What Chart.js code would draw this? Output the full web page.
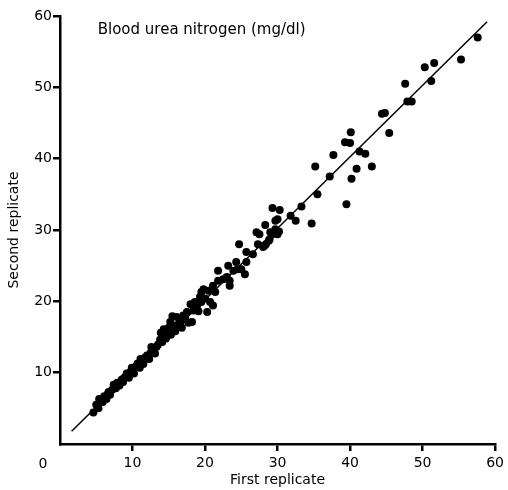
<!DOCTYPE html>
<html>
<head>
<meta charset="utf-8">
<script src="https://cdn.jsdelivr.net/npm/chart.js@4"></script>
<style>
  html, body { margin: 0; padding: 0; background: #fff; }
  #wrap { width: 508px; height: 490px; position: relative; }
</style>
</head>
<body>
<div id="wrap"><canvas id="bun"></canvas></div>
<script>
// values, mg/dl
const firstReplicate = [
  4.6, 5.0, 5.3, 5.6, 5.9, 6.1, 6.4, 6.7, 6.9, 7.2,
  7.4, 7.7, 7.9, 8.2, 8.5, 8.7, 9.0, 9.2, 9.5, 9.7,
  10.0, 10.2, 10.5, 10.7, 11.0, 11.2, 11.5, 11.7, 12.0, 12.3,
  12.5, 12.8, 13.1, 13.3, 5.4, 6.6, 7.5, 8.8, 9.9, 11.1,
  12.6,
  13.5, 13.8, 14.1, 14.4, 14.6, 14.3, 13.9, 14.8, 15.0, 15.2,
  15.5, 15.3, 15.7, 15.9, 16.1, 16.3, 16.6, 16.8, 17.0, 17.3,
  17.5, 17.7, 18.0, 18.2, 18.4, 18.6, 18.9, 19.1, 19.3, 19.5,
  19.5, 19.8, 20.0, 20.3, 20.5, 20.7, 21.1, 21.1, 21.4, 21.8,
  21.8, 22.5, 23.0, 23.4, 23.4, 23.9, 23.2, 24.3, 24.5, 25.0,
  25.5, 25.7, 24.7, 25.7, 26.6, 27.3, 28.2, 27.1, 27.5, 29.0,
  28.8, 28.3, 28.4, 28.0, 28.9, 29.7, 30.0, 29.7, 30.2, 29.3,
  30.0, 31.8, 32.5, 33.3, 29.3, 30.3, 34.7, 35.5,
  35.2, 37.2, 37.7, 39.5, 40.2, 40.9, 43.0, 41.3, 42.1, 39.3,
  40.0, 40.1, 45.4, 44.4, 44.8, 47.9, 48.5, 47.6, 51.2, 50.3,
  51.6, 55.3, 57.6
];
const secondReplicate = [
  4.4, 5.5, 5.0, 6.2, 5.9, 6.7, 6.3, 7.3, 6.9, 7.6,
  8.3, 7.8, 8.6, 8.2, 9.0, 8.7, 9.4, 9.9, 9.3, 10.1,
  10.4, 9.9, 10.9, 11.3, 10.7, 11.6, 11.2, 12.1, 12.4, 11.9,
  12.8, 13.2, 12.7, 13.6, 6.3, 7.0, 8.0, 9.2, 10.7, 11.9,
  13.6,
  13.9, 14.6, 14.3, 15.2, 14.8, 16.1, 15.6, 15.6, 16.3, 17.1,
  17.9, 15.3, 16.6, 15.8, 17.8, 16.7, 17.1, 16.3, 18.0, 17.5,
  18.5, 17.0, 19.6, 17.1, 18.7, 19.9, 19.4, 18.6, 20.6, 19.9,
  21.3, 21.7, 20.4, 18.5, 21.5, 19.9, 19.4, 22.2, 21.3, 22.9,
  24.3, 23.1, 23.4, 22.2, 22.9, 24.3, 25.0, 25.5, 24.5, 24.5,
  23.8, 25.5, 28.0, 26.9, 26.6, 28.0, 27.8, 29.7, 29.4, 29.7,
  28.5, 30.7, 28.0, 27.6, 28.7, 31.3, 31.5, 30.1, 29.8, 29.4,
  29.4, 32.0, 31.3, 33.3, 33.1, 32.8, 30.9, 35.0,
  38.9, 37.5, 40.5, 33.6, 37.2, 38.6, 38.9, 41.0, 40.7, 42.3,
  42.2, 43.7, 43.6, 46.3, 46.4, 48.0, 48.0, 50.5, 50.9, 52.8,
  53.4, 53.9, 57.0
];

// line of equality, ends as drawn
const equalityX = [1.6, 58.9];
const equalityY = [1.8, 59.2];

const axisTicks = [0, 10, 20, 30, 40, 50, 60];
const chartTitle = 'Blood urea nitrogen (mg/dl)';
const xTitle = 'First replicate';
const yTitle = 'Second replicate';

const FONT = "'DejaVu Sans', sans-serif";
Chart.defaults.font.family = FONT;
Chart.defaults.font.size = 14;
Chart.defaults.color = '#000';

function tickColor(c) {
    return (c.tick && c.tick.value === 0) ? 'rgba(0,0,0,0)' : '#000';
}

// title inside the plot and the shared "0" at the origin
const annotate = {
    id: 'annotate',
    afterDraw(chart) {
        const { ctx, scales, chartArea } = chart;
        ctx.save();
        ctx.fillStyle = '#000';
        ctx.textBaseline = 'middle';
        ctx.font = '15px ' + FONT;
        ctx.textAlign = 'left';
        ctx.fillText(chartTitle, scales.x.getPixelForValue(5.2), scales.y.getPixelForValue(58.0));
        ctx.font = '14px ' + FONT;
        ctx.textAlign = 'center';
        ctx.fillText('0', scales.x.getPixelForValue(0) - 17, chartArea.bottom + 20);
        ctx.restore();
    }
};

const points = firstReplicate.map((x, i) => ({ x: x, y: secondReplicate[i] }));
const equality = equalityX.map((x, i) => ({ x: x, y: equalityY[i] }));

new Chart(document.getElementById('bun').getContext('2d'), {
    type: 'scatter',
    data: {
        datasets: [
            {
                data: equality,
                showLine: true,
                borderColor: '#000',
                borderWidth: 1.5,
                pointRadius: 0,
                order: 2
            },
            {
                data: points,
                backgroundColor: '#000',
                borderColor: '#000',
                borderWidth: 0,
                pointRadius: 4,
                order: 1
            }
        ]
    },
    options: {
        responsive: true,
        maintainAspectRatio: false,
        animation: false,
        layout: { padding: { top: 16, right: 10, bottom: 0, left: 0 } },
        plugins: { legend: { display: false }, tooltip: { enabled: false } },
        scales: {
            x: {
                type: 'linear',
                min: 0, max: 60,
                afterBuildTicks: s => { s.ticks = axisTicks.map(v => ({ value: v })); },
                afterFit: s => { s.height = 46; },
                ticks: { callback: v => v === 0 ? '' : v, padding: 4, maxRotation: 0, color: '#000' },
                grid: { drawOnChartArea: false, tickLength: 7, lineWidth: 2.5, color: tickColor },
                border: { color: '#000', width: 2.5 },
                title: { display: true, text: xTitle, padding: { top: 0, bottom: 1 }, color: '#000' }
            },
            y: {
                type: 'linear',
                min: 0, max: 60,
                afterBuildTicks: s => { s.ticks = axisTicks.map(v => ({ value: v })); },
                afterFit: s => { s.width = 60; },
                ticks: { callback: v => v === 0 ? '' : v, padding: 1, color: '#000' },
                grid: { drawOnChartArea: false, tickLength: 7, lineWidth: 2.5, color: tickColor },
                border: { color: '#000', width: 2.5 },
                title: { display: true, text: yTitle, padding: { top: 6, bottom: 0 }, color: '#000' }
            }
        }
    },
    plugins: [annotate]
});
</script>
</body>
</html>
